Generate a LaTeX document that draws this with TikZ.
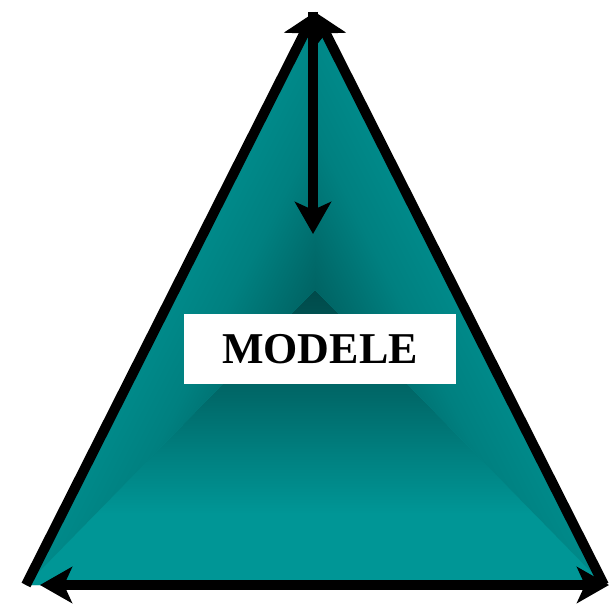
\documentclass[tikz,border=0pt]{standalone}
\usepackage{fontspec}
\setmainfont{Liberation Serif}
\usetikzlibrary{arrows.meta}
\definecolor{tealc}{RGB}{0,150,150}
\definecolor{tealb}{RGB}{0,128,128}
\definecolor{tealm}{RGB}{0,105,105}
\definecolor{darkd}{RGB}{0,74,74}
\pgfdeclarehorizontalshading{botshade}{100bp}{color(0bp)=(tealc); color(25bp)=(tealc); color(37bp)=(tealc); color(47bp)=(tealb); color(57bp)=(tealm); color(75bp)=(darkd); color(100bp)=(darkd)}
\pgfdeclarehorizontalshading{sideshade}{100bp}{color(0bp)=(tealc); color(25bp)=(tealc); color(42bp)=(tealc); color(57bp)=(tealb); color(75bp)=(darkd); color(100bp)=(darkd)}
\tikzset{
  edge/.style={line width=10pt, -{Stealth[length=32pt,width=36pt,inset=8pt]}},
  lbl/.style={fill=white, minimum width=272pt, minimum height=70pt, inner sep=0pt, font=\bfseries\fontsize{44}{44}\selectfont}
}
\begin{document}
\begin{tikzpicture}[x=1pt,y=-1pt]
\useasboundingbox (0,0) rectangle (612,604);
\coordinate (A) at (26,585);
\coordinate (B) at (315,12);
\coordinate (D) at (604,585);
\coordinate (C) at (315,290);
\coordinate (BL) at (40,585);
\coordinate (BR) at (609,585);
\coordinate (VT) at (313,12);
\coordinate (VB) at (313,234);
\fill[tealc] (A) -- (B) -- (D) -- cycle;
\shade[shading=botshade, shading angle=90] (A) -- (D) -- (C) -- cycle;
\shade[shading=sideshade, shading angle=-26.84] (A) -- (B) -- (C) -- cycle;
\shade[shading=sideshade, shading angle=206.84] (B) -- (D) -- (C) -- cycle;
\draw[edge] (A) -- (B);
\draw[edge] (D) -- (B);
\draw[line width=10pt, {Stealth[length=32pt,width=36pt,inset=8pt]}-{Stealth[length=32pt,width=36pt,inset=8pt]}] (BL) -- (BR);
\draw[edge] (VT) -- (VB);
\node[lbl] (m) at (320,349) {MODELE};
\end{tikzpicture}
\end{document}
